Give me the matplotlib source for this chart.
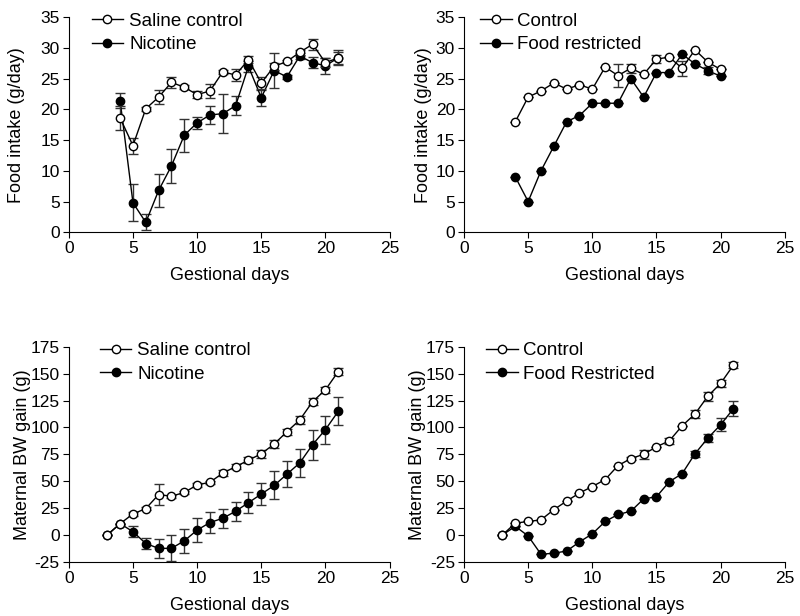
import matplotlib as mpl
mpl.use('Agg')
import matplotlib.pyplot as plt

plt.rcParams['font.family'] = ['Liberation Sans', 'DejaVu Sans']
plt.rcParams['axes.unicode_minus'] = False

# --- top left: food intake, saline vs nicotine
fi_days = [4, 5, 6, 7, 8, 9, 10, 11, 12, 13, 14, 15, 16, 17, 18, 19, 20, 21]
fi_saline = [18.6, 14.1, 20.1, 22.0, 24.4, 23.6, 22.4, 23.0, 26.1, 25.6, 28.1, 24.3, 27.0, 27.8, 29.3, 30.6, 27.6, 28.4]
fi_saline_err = [1.9, 1.3, 0.3, 1.1, 0.9, 0.3, 0.6, 1.1, 0.3, 0.9, 0.6, 1.0, 0.6, 0.3, 0.4, 0.9, 0.7, 1.0]
fi_nicotine = [21.4, 4.8, 1.6, 6.8, 10.8, 15.8, 17.8, 19.1, 19.3, 20.6, 27.0, 21.9, 26.3, 25.3, 28.7, 27.6, 27.1, 28.4]
fi_nicotine_err = [1.2, 3.0, 1.3, 2.7, 2.8, 2.7, 1.0, 1.4, 3.2, 1.5, 0.9, 1.3, 2.9, 0.3, 0.5, 0.9, 1.3, 1.2]

# --- top right: food intake, control vs food restricted
fr_days = [4, 5, 6, 7, 8, 9, 10, 11, 12, 13, 14, 15, 16, 17, 18, 19, 20]
fr_control = [18.0, 22.0, 23.0, 24.3, 23.3, 24.0, 23.3, 26.9, 25.5, 26.7, 25.7, 28.2, 28.5, 26.7, 29.7, 27.7, 26.5]
fr_control_err = [0, 0, 0, 0, 0, 0, 0, 0, 1.9, 0.7, 0, 0.7, 0, 1.2, 0, 0, 0]
fr_restricted = [9.0, 5.0, 10.0, 14.0, 18.0, 19.0, 21.0, 21.0, 21.0, 25.0, 22.0, 26.0, 26.0, 29.0, 27.4, 26.3, 25.4]
fr_restricted_err = [0, 0, 0, 0, 0, 0, 0, 0, 0, 0, 0, 0, 0, 0, 0, 0.6, 0]

# --- bottom left: BW gain, saline vs nicotine
bw_days = [3, 4, 5, 6, 7, 8, 9, 10, 11, 12, 13, 14, 15, 16, 17, 18, 19, 20, 21]
bw_saline = [0, 10.5, 19.5, 24.5, 37.5, 36.0, 39.5, 46.5, 49.0, 57.5, 63.5, 69.5, 75.5, 84.5, 96.0, 107.0, 124.0, 135.0, 152.0]
bw_saline_err = [0, 0, 1.5, 1.5, 9.5, 1.5, 1.5, 1.5, 1.5, 3.0, 2.5, 3.0, 3.5, 4.0, 3.0, 3.5, 3.5, 3.0, 3.5]
bw_nicotine = [0, 10.5, 3.0, -8.0, -12.5, -12.5, -5.5, 4.5, 11.5, 15.5, 22.0, 30.0, 38.0, 46.0, 56.5, 67.0, 84.0, 98.0, 115.0]
bw_nicotine_err = [0, 0, 5.0, 5.0, 9.0, 12.0, 11.0, 11.0, 10.0, 9.0, 9.0, 10.0, 10.0, 13.0, 12.0, 13.0, 14.0, 13.0, 13.0]

# --- bottom right: BW gain, control vs food restricted
bw2_control = [0, 11.0, 12.5, 14.0, 23.5, 31.5, 39.0, 45.0, 51.5, 64.5, 71.0, 75.0, 82.0, 87.5, 101.5, 112.5, 129.0, 141.0, 158.0]
bw2_control_err = [0, 0, 0, 0, 0, 0, 0, 0, 0, 0, 1.5, 4.0, 0, 3.0, 0, 4.0, 4.0, 3.0, 3.0]
bw2_restricted = [0, 8.0, -1.0, -18.0, -17.0, -15.0, -6.5, 1.0, 12.5, 19.0, 22.0, 33.5, 35.5, 49.5, 57.0, 75.5, 90.0, 102.5, 117.5]
bw2_restricted_err = [0, 0, 0, 0, 0, 0, 0, 0, 0, 0, 0, 0, 0, 0, 0, 3.0, 4.0, 6.0, 7.0]


def panel(ax, x, y1, e1, y2, e2, lab1, lab2, ylabel, ylim, ystep, legx, ylx):
    ax.errorbar(x, y1, yerr=e1, fmt='-o', color='black', mfc='white', mec='black',
                ms=6, lw=1, elinewidth=1, capsize=3.5, ecolor='#333333', label=lab1, zorder=3)
    ax.errorbar(x, y2, yerr=e2, fmt='-o', color='black', mfc='black', mec='black',
                ms=6, lw=1, elinewidth=1, capsize=3.5, ecolor='#333333', label=lab2, zorder=2)
    ax.set_xlim(0, 25)
    ax.set_ylim(*ylim)
    ax.set_xticks(range(0, 26, 5))
    ax.set_yticks(range(ylim[0], ylim[1] + 1, ystep))
    ax.spines['top'].set_visible(False)
    ax.spines['right'].set_visible(False)
    ax.tick_params(labelsize=12.5, direction='out', length=4.5, pad=2)
    ax.set_xlabel('Gestional days', fontsize=13, labelpad=8)
    ax.set_ylabel(ylabel, fontsize=13)
    ax.yaxis.set_label_coords(ylx, 0.5)
    h, l = ax.get_legend_handles_labels()
    h = [hh[0] for hh in h]
    ax.legend(h, l, loc='upper left', bbox_to_anchor=(legx, 1.083), frameon=False,
              fontsize=13.5, handlelength=1.7, handletextpad=0.3, labelspacing=0.35,
              borderaxespad=0.3)


fig = plt.figure(figsize=(8, 6.16), dpi=100)
ax1 = fig.add_axes([0.086, 0.623, 0.401, 0.349])
ax2 = fig.add_axes([0.580, 0.623, 0.401, 0.349])
ax3 = fig.add_axes([0.086, 0.088, 0.401, 0.349])
ax4 = fig.add_axes([0.580, 0.088, 0.401, 0.349])

panel(ax1, fi_days, fi_saline, fi_saline_err, fi_nicotine, fi_nicotine_err,
      'Saline control', 'Nicotine', 'Food intake (g/day)', (0, 35), 5, 0.03, -0.135)
panel(ax2, fr_days, fr_control, fr_control_err, fr_restricted, fr_restricted_err,
      'Control', 'Food restricted', 'Food intake (g/day)', (0, 35), 5, 0.008, -0.1)
panel(ax3, bw_days, bw_saline, bw_saline_err, bw_nicotine, bw_nicotine_err,
      'Saline control', 'Nicotine', 'Maternal BW gain (g)', (-25, 175), 25, 0.055, -0.118)
panel(ax4, bw_days, bw2_control, bw2_control_err, bw2_restricted, bw2_restricted_err,
      'Control', 'Food Restricted', 'Maternal BW gain (g)', (-25, 175), 25, 0.027, -0.118)

fig.savefig('out.png', dpi=100)
